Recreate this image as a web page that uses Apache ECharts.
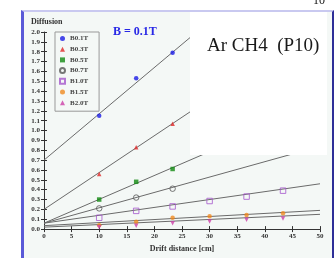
<!DOCTYPE html>
<html>
<head>
<meta charset="utf-8">
<script src="https://cdn.jsdelivr.net/npm/echarts@6/dist/echarts.min.js"></script>
<style>
  html, body { margin: 0; padding: 0; background: #fff; }
  #frame {
    position: absolute; left: 21px; top: 10px; width: 308px; height: 248px;
    background: #f4f8f6;
    border-left: 3px solid #5a5ad8;
    border-top: 2px solid #c9c9f0;
    border-right: 2px solid #2e2e98;
  }
  #chart { position: absolute; left: 0; top: 0; width: 335px; height: 258px; }
</style>
</head>
<body>
<div id="frame"></div>
<div id="chart"></div>
<script>
// drift distances of the measurements [cm]
var driftX = [10, 16.7, 23.3, 30, 36.7, 43.3];
var fields = ['B0.1T', 'B0.3T', 'B0.5T', 'B0.7T', 'B1.0T', 'B1.5T', 'B2.0T'];
// measured diffusion per field
var d01 = [1.15, 1.53, 1.79];
var d03 = [0.56, 0.83, 1.07];
var d05 = [0.30, 0.48, 0.61];
var d07 = [0.21, 0.32, 0.41];
var d10 = [0.115, 0.185, 0.23, 0.285, 0.33, 0.39];
var d15 = [0.04, 0.074, 0.114, 0.13, 0.144, 0.16];
var d20 = [0.02, 0.033, 0.06, 0.077, 0.094, 0.108];
// fit lines: value at x = 0 and at x = 50
var fitX = [0, 50];
var fitStart = [0.70, 0.20, 0.06, 0.06, 0.06, 0.035, 0.02];
var fitEnd = [3.05, 2.07, 1.27, 0.84, 0.46, 0.19, 0.15];

var measured = [d01, d03, d05, d07, d10, d15, d20];
var colors = ['#1a1ae6', '#e02828', '#128a12', '#555555', '#a455cc', '#f08a20', '#cc3fa8'];
var symbols = ['circle', 'triangle', 'rect', 'circle', 'rect', 'circle', 'triangle'];
var hollow = [false, false, false, true, true, false, false];

var myChart = echarts.init(document.getElementById('chart'));
var series = [];
for (var i = 0; i < fields.length; i++) {
  series.push({
    name: fields[i] + '_fit',
    type: 'line',
    data: [[fitX[0], fitStart[i]], [fitX[1], fitEnd[i]]],
    symbol: 'none',
    silent: true,
    lineStyle: { color: '#6a6a6a', width: 1 },
    z: 2
  });
}
for (var i = 0; i < fields.length; i++) {
  var pts = [];
  for (var j = 0; j < measured[i].length; j++) {
    pts.push([driftX[j], measured[i][j]]);
  }
  series.push({
    name: fields[i],
    type: 'scatter',
    data: pts,
    symbol: symbols[i],
    symbolRotate: i === 6 ? 180 : 0,
    symbolSize: hollow[i] ? 5.5 : 4.5,
    itemStyle: hollow[i]
      ? { color: 'rgba(0,0,0,0)', borderColor: colors[i], borderWidth: 1 }
      : { color: colors[i] },
    z: 3
  });
}

var smallFont = { fontFamily: 'Liberation Serif', fontWeight: 'bold', fontSize: 7, color: '#333' };

var option = {
  animation: false,
  grid: { left: 44, right: 15, top: 32, bottom: 28 },
  xAxis: [{
    type: 'value', min: 0, max: 50, interval: 5,
    name: 'Drift distance [cm]', nameLocation: 'middle', nameGap: 14,
    nameTextStyle: { fontFamily: 'Liberation Serif', fontWeight: 'bold', fontSize: 8, color: '#333' },
    axisLine: { lineStyle: { color: '#333' } },
    axisTick: { length: 3, lineStyle: { color: '#333' } },
    axisLabel: Object.assign({ margin: 4 }, smallFont),
    splitLine: { show: false }
  }, {
    type: 'value', min: 0, max: 50, interval: 5, position: 'bottom',
    axisLine: { show: false },
    axisTick: { inside: true, length: 3, lineStyle: { color: '#333' } },
    axisLabel: { show: false }, splitLine: { show: false }
  }],
  yAxis: [{
    type: 'value', min: 0, max: 2.0, interval: 0.1,
    axisLine: { show: true, lineStyle: { color: '#333' } },
    axisTick: { show: true, length: 3, lineStyle: { color: '#333' } },
    axisLabel: Object.assign({ margin: 4, formatter: function (v) { return v.toFixed(1); } }, smallFont),
    splitLine: { show: false }
  }, {
    type: 'value', min: 0, max: 2.0, interval: 0.1, position: 'left',
    axisLine: { show: false },
    axisTick: { show: true, inside: true, length: 3, lineStyle: { color: '#333' } },
    axisLabel: { show: false }, splitLine: { show: false }
  }],
  legend: {
    data: fields, orient: 'vertical', left: 55, top: 32,
    padding: [3, 11, 5, 4],
    itemWidth: 5, itemHeight: 5, itemGap: 3.7,
    borderColor: '#999', borderWidth: 1, backgroundColor: '#f4f8f6',
    textStyle: { fontFamily: 'Liberation Serif', fontWeight: 'bold', fontSize: 7, lineHeight: 7, color: '#444' }
  },
  graphic: {
    elements: [
      { type: 'text', left: 31, top: 18, z: 100,
        style: { text: 'Diffusion', font: 'bold 8px "Liberation Serif"', fill: '#333' } },
      { type: 'text', left: 113, top: 26, z: 100,
        style: { text: 'B = 0.1T', font: 'bold 12px "Liberation Serif"', fill: '#2828e6' } },
      { type: 'rect', shape: { x: 190, y: 12, width: 137, height: 143 }, z: 100,
        style: { fill: '#ffffff' } },
      { type: 'text', left: 207, top: 37, z: 101,
        style: { text: 'Ar CH4  (P10)', font: '19px "Liberation Serif"', fill: '#1a1a1a' } },
      { type: 'text', left: 313, top: -5, z: 101,
        style: { text: '10', font: '12px "Liberation Serif"', fill: '#111' } }
    ]
  },
  series: series
};
myChart.setOption(option);
</script>
</body>
</html>
